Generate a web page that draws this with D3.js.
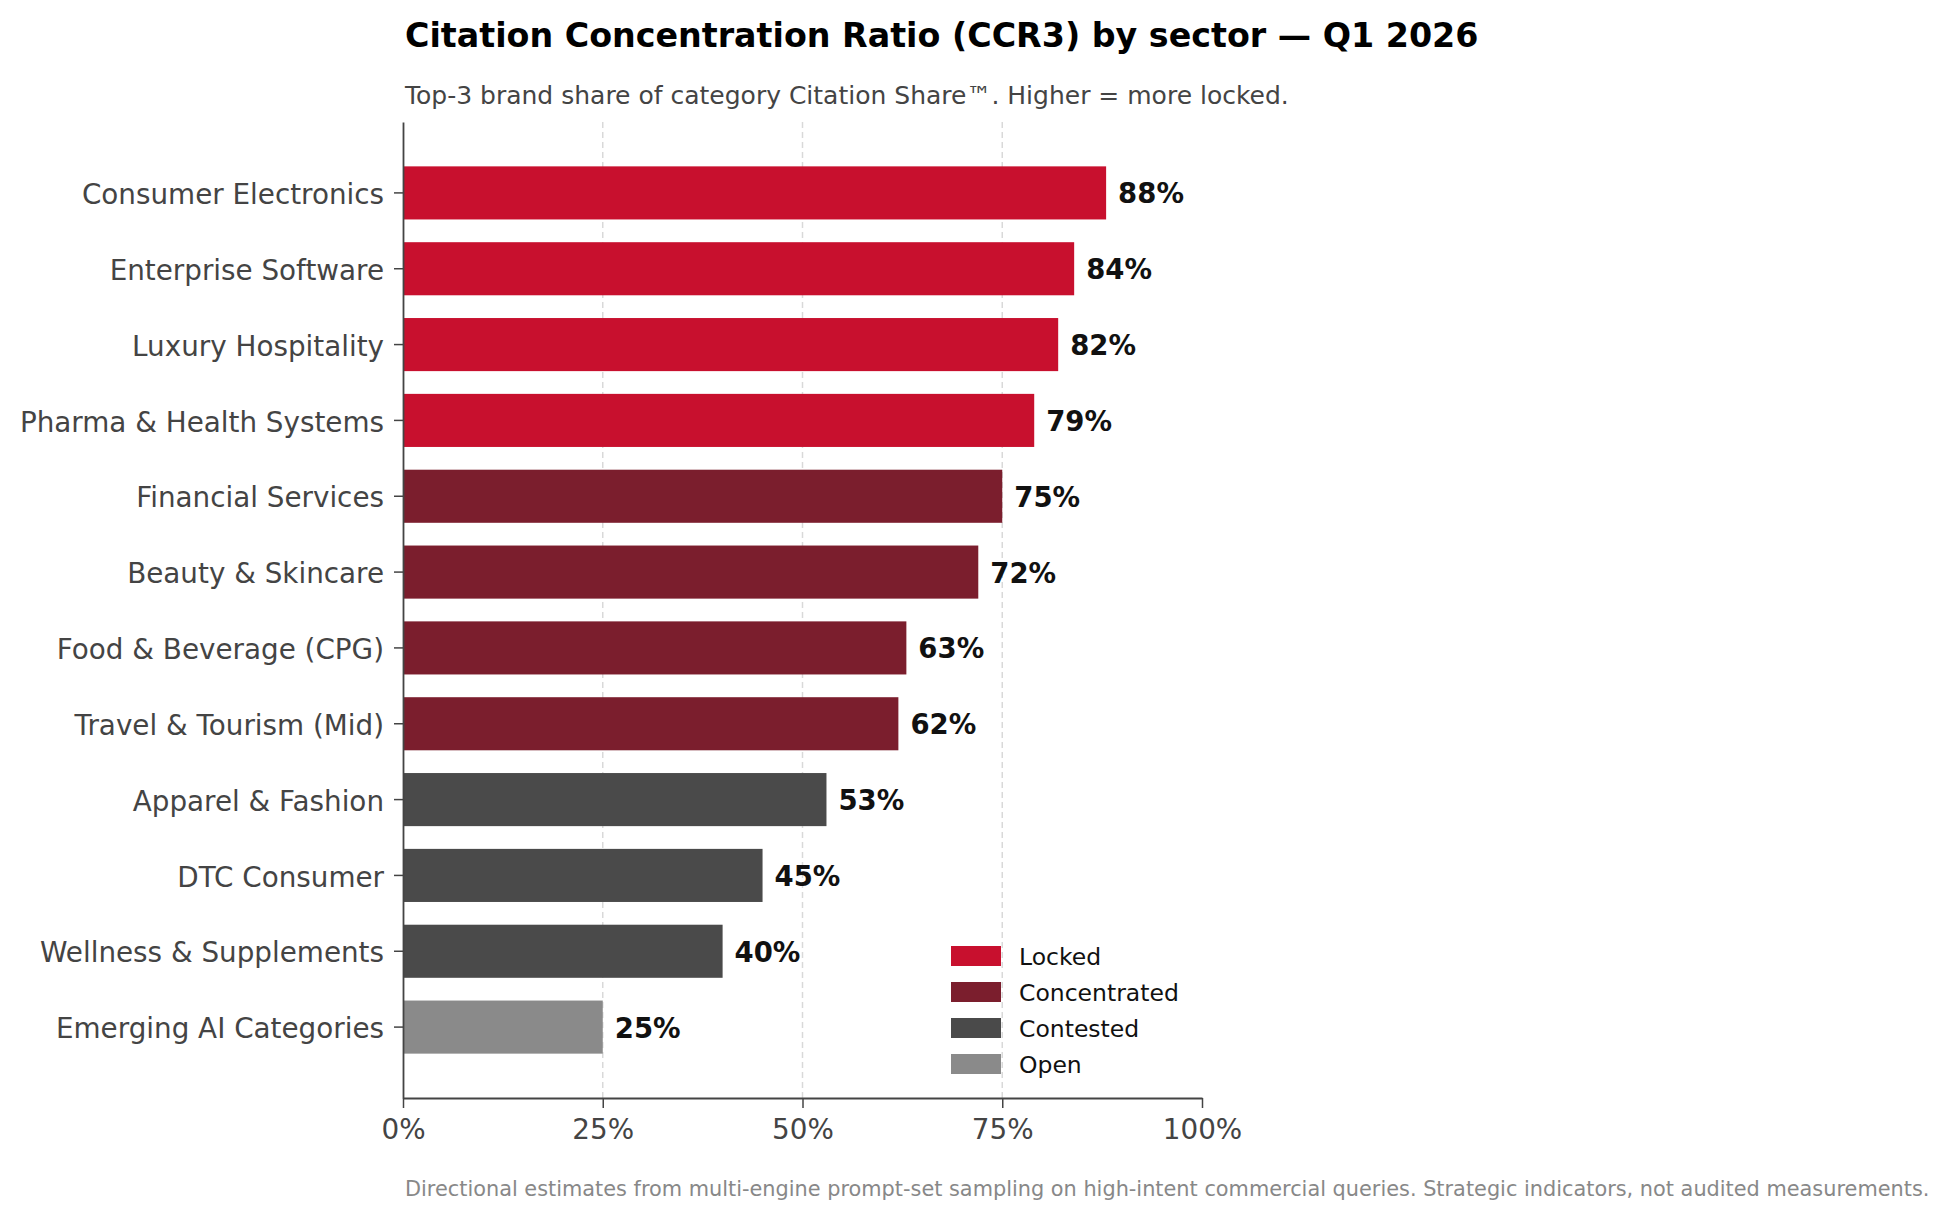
<!DOCTYPE html>
<html>
<head>
<meta charset="utf-8">
<script src="https://cdn.jsdelivr.net/npm/d3@7"></script>
<style>
  body { margin: 0; background: #fff; }
  svg { font-family: "DejaVu Sans", sans-serif; display: block; }
</style>
</head>
<body>
<div id="chart"></div>
<script>
// sectors, top to bottom
var sectors = [
    "Consumer Electronics", "Enterprise Software", "Luxury Hospitality", "Pharma & Health Systems",
    "Financial Services", "Beauty & Skincare", "Food & Beverage (CPG)", "Travel & Tourism (Mid)",
    "Apparel & Fashion", "DTC Consumer", "Wellness & Supplements", "Emerging AI Categories"
];
var ccr3 = [88, 84, 82, 79, 75, 72, 63, 62, 53, 45, 40, 25];
var tier = ["Locked", "Locked", "Locked", "Locked",
    "Concentrated", "Concentrated", "Concentrated", "Concentrated",
    "Contested", "Contested", "Contested", "Open"];

var tierNames = ["Locked", "Concentrated", "Contested", "Open"];
var tierColors = ["#c8102e", "#7b1e2d", "#4a4a4a", "#8a8a8a"];
var xTicks = [0, 25, 50, 75, 100];

var rows = sectors.map(function(s, i) { return {sector: s, value: ccr3[i], tier: tier[i]}; });

var W = 1947, H = 1219;
var plotLeft = 403, plotRight = 1202, plotTop = 122, plotBottom = 1098;

var svg = d3.select("#chart").append("svg")
    .attr("width", W)
    .attr("height", H);

svg.append("rect").attr("width", W).attr("height", H).attr("fill", "#fff");

var x = d3.scaleLinear().domain([0, 100]).range([plotLeft, plotRight]);
var y = d3.scaleBand().domain(sectors).range([plotTop, plotBottom])
    .paddingInner(0.3).paddingOuter(0.585);
var color = d3.scaleOrdinal().domain(tierNames).range(tierColors);

// grid
svg.append("g").selectAll("line")
    .data([25, 50, 75])
    .enter()
    .append("line")
    .attr("x1", function(d) { return x(d); })
    .attr("x2", function(d) { return x(d); })
    .attr("y1", plotTop)
    .attr("y2", plotBottom)
    .attr("stroke", "#d9d9d9")
    .attr("stroke-width", 1.5)
    .attr("stroke-dasharray", "6,4");

// bars
svg.append("g").selectAll("rect")
    .data(rows)
    .enter()
    .append("rect")
    .attr("x", x(0))
    .attr("y", function(d) { return y(d.sector); })
    .attr("width", function(d) { return x(d.value) - x(0); })
    .attr("height", y.bandwidth())
    .attr("fill", function(d) { return color(d.tier); });

// value labels
svg.append("g").selectAll("text")
    .data(rows)
    .enter()
    .append("text")
    .attr("x", function(d) { return x(d.value) + 12; })
    .attr("y", function(d) { return y(d.sector) + y.bandwidth() / 2; })
    .attr("dy", "0.38em")
    .attr("font-size", 27.5)
    .attr("font-weight", "bold")
    .attr("fill", "#111")
    .text(function(d) { return d.value + "%"; });

// axes
var yAxis = svg.append("g")
    .attr("transform", "translate(" + plotLeft + ",0)")
    .call(d3.axisLeft(y).tickSize(9).tickPadding(10).tickSizeOuter(0));
var xAxis = svg.append("g")
    .attr("transform", "translate(0," + plotBottom + ")")
    .call(d3.axisBottom(x).tickValues(xTicks).tickSize(10).tickPadding(11).tickSizeOuter(0)
        .tickFormat(function(d) { return d + "%"; }));

[yAxis, xAxis].forEach(function(a) {
    a.select(".domain").attr("stroke", "#444").attr("stroke-width", 1.8);
    a.selectAll(".tick line").attr("stroke", "#444").attr("stroke-width", 1.5);
    a.selectAll(".tick text").attr("fill", "#444").attr("font-size", 27.8)
        .attr("font-family", "DejaVu Sans");
});
yAxis.selectAll(".tick text").attr("dy", "0.4em");

// legend
var legend = svg.append("g").selectAll("g")
    .data(tierNames)
    .enter()
    .append("g")
    .attr("transform", function(d, i) { return "translate(951," + (956 + i * 36) + ")"; });
legend.append("rect")
    .attr("x", 0).attr("y", -10)
    .attr("width", 50).attr("height", 20)
    .attr("fill", function(d) { return color(d); });
legend.append("text")
    .attr("x", 68).attr("dy", "0.38em")
    .attr("font-size", 23.5)
    .attr("fill", "#111")
    .text(function(d) { return d; });

// titles
svg.append("text")
    .attr("x", 405).attr("y", 46.5)
    .attr("font-size", 33.3).attr("font-weight", "bold").attr("fill", "#000")
    .text("Citation Concentration Ratio (CCR3) by sector \u2014 Q1 2026");
svg.append("text")
    .attr("x", 405).attr("y", 104)
    .attr("font-size", 25).attr("fill", "#444")
    .text("Top-3 brand share of category Citation Share\u2122. Higher = more locked.");
svg.append("text")
    .attr("x", 405).attr("y", 1196)
    .attr("font-size", 20.85).attr("fill", "#888")
    .text("Directional estimates from multi-engine prompt-set sampling on high-intent commercial queries. Strategic indicators, not audited measurements.");
</script>
</body>
</html>
